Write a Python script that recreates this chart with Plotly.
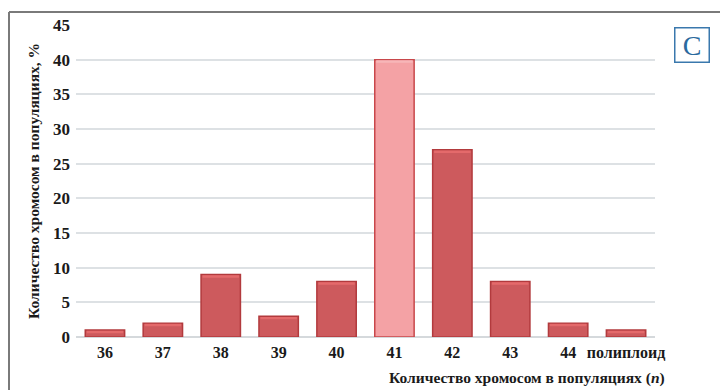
import plotly.graph_objects as go

categories = ["36", "37", "38", "39", "40", "41", "42", "43", "44", "полиплоид"]
values = [1, 2, 9, 3, 8, 40, 27, 8, 2, 1]
highlight = "41"
y_ticks = [0, 5, 10, 15, 20, 25, 30, 35, 40, 45]

fill = ["#f4a2a5" if c == highlight else "#cd5a5d" for c in categories]
edge = ["#c8484b" if c == highlight else "#b23a3d" for c in categories]
stripe = ["#f7b6b8" if c == highlight else "#e46a6b" for c in categories]

FONT = "Liberation Serif, Times New Roman, serif"
W, H = 720, 390
ML, MR, MT, MB = 76, 65, 25, 53
PW, PH = W - ML - MR, H - MT - MB


def px(x):
    return (x - ML) / PW


def py(y):
    return (H - MB - y) / PH


fig = go.Figure()
fig.add_trace(go.Bar(
    x=categories, y=values, marker=dict(color=fill, line=dict(color=edge, width=1.5)),
    width=0.68, hoverinfo="x+y"))
fig.add_trace(go.Bar(
    x=categories, y=[0.35] * len(values), base=[v - 0.45 for v in values],
    marker=dict(color=stripe, line=dict(width=0)), width=0.63, hoverinfo="skip"))

tick_text_x = ["<b>%s</b>" % c for c in categories]
tick_text_y = ["<b>%d</b>" % t for t in y_ticks]

fig.update_layout(
    width=W, height=H, margin=dict(l=ML, r=MR, t=MT, b=MB),
    paper_bgcolor="white", plot_bgcolor="white", showlegend=False,
    barmode="overlay", font=dict(family=FONT, size=16, color="#1a1a1a"),
    xaxis=dict(showgrid=False, showline=False, ticks="", tickvals=categories, ticktext=tick_text_x,
               tickfont=dict(size=16, family=FONT), ticklabelstandoff=4),
    yaxis=dict(range=[0, 45], tickvals=y_ticks, ticktext=tick_text_y, showgrid=True, gridcolor="#dde1e4",
               gridwidth=1.5, zeroline=True, zerolinecolor="#d5d9dc", zerolinewidth=1.5, showline=False,
               ticks="", tickfont=dict(size=17, family=FONT), ticklabelstandoff=5),
)

# outer frame (top and left edges visible)
fig.add_shape(type="line", xref="paper", yref="paper", x0=px(9), x1=px(730), y0=py(12), y1=py(12),
              line=dict(color="#7a7a7a", width=2))
fig.add_shape(type="line", xref="paper", yref="paper", x0=px(9), x1=px(9), y0=py(12), y1=py(400),
              line=dict(color="#7a7a7a", width=2))

fig.add_annotation(xref="paper", yref="paper", x=px(667), y=py(378), xanchor="right", yanchor="middle",
                   text="<b>Количество хромосом в популяциях (<i>n</i>)</b>", showarrow=False,
                   font=dict(size=15.5, family=FONT, color="#1a1a1a"))
fig.add_annotation(xref="paper", yref="paper", x=px(33), y=py(181), xanchor="center", yanchor="middle",
                   text="<b>Количество хромосом в популяциях, %</b>", showarrow=False, textangle=-90,
                   font=dict(size=15.5, family=FONT, color="#1a1a1a"))
fig.add_annotation(xref="paper", yref="paper", x=px(692), y=py(45), xanchor="center", yanchor="middle",
                   text="C", showarrow=False, width=33, height=33, bordercolor="#3a78ad", borderwidth=1.5,
                   borderpad=0, bgcolor="white",
                   font=dict(size=28, family=FONT, color="#2b6a9e"))

fig.write_html("out.html")
